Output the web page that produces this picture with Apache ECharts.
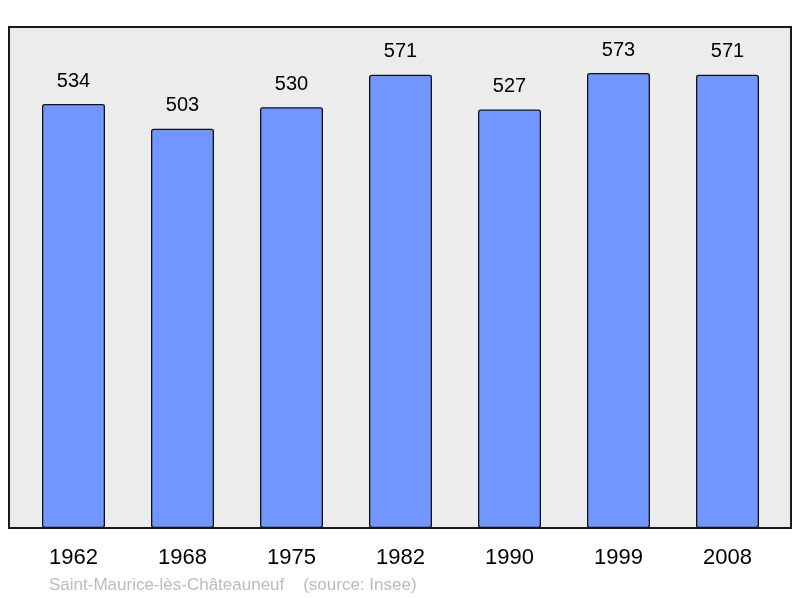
<!DOCTYPE html>
<html>
<head>
<meta charset="utf-8">
<script src="https://cdn.jsdelivr.net/npm/echarts@6/dist/echarts.min.js"></script>
<style>
html,body{margin:0;padding:0;background:#fff;}
#chart{width:800px;height:598px;}
</style>
</head>
<body>
<div id="chart"></div>
<script>
var years = ['1962','1968','1975','1982','1990','1999','2008'];
var population = [534, 503, 530, 571, 527, 573, 571];
var footer = 'Saint-Maurice-lès-Châteauneuf    (source: Insee)';

var chart = echarts.init(document.getElementById('chart'));
var option = {
    animation: false,
    textStyle: {fontFamily: 'Liberation Sans'},
    title: {
        text: footer,
        left: 44,
        top: 572,
        textStyle: {color: '#bbbbbb', fontSize: 17, fontWeight: 'normal', fontFamily: 'Liberation Sans'}
    },
    grid: [
        // 画框
        {left: 9, right: 9, top: 27, bottom: 70, show: true, backgroundColor: '#ececec', borderColor: '#1a1a1a', borderWidth: 2},
        // 柱子
        {left: 19, right: 18, top: 27, bottom: 70}
    ],
    xAxis: [
        {gridIndex: 0, type: 'value', show: false},
        {
            gridIndex: 1,
            type: 'category',
            data: years,
            axisLine: {show: false},
            axisTick: {show: false},
            axisLabel: {color: '#000', fontSize: 22, margin: 19}
        }
    ],
    yAxis: [
        {gridIndex: 0, type: 'value', show: false},
        {gridIndex: 1, type: 'value', min: 0, max: 631, show: false}
    ],
    series: [{
        type: 'bar',
        xAxisIndex: 1,
        yAxisIndex: 1,
        data: population,
        barWidth: 63,
        itemStyle: {color: '#7097ff', borderColor: '#111', borderWidth: 1.3, borderRadius: 2},
        label: {show: true, position: 'top', distance: 13, color: '#000', fontSize: 20}
    }]
};
chart.setOption(option);
</script>
</body>
</html>
